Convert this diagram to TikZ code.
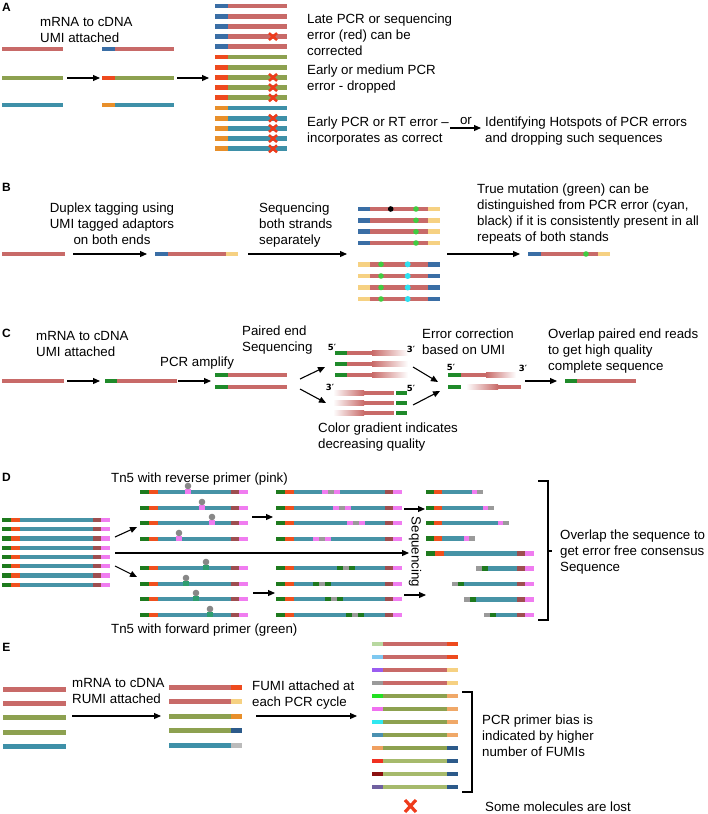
\documentclass[tikz,border=0pt]{standalone}
\usepackage{fontspec}
\setmainfont{Liberation Sans}
\newfontfamily\dvs{DejaVu Sans}
\usetikzlibrary{arrows.meta}
\definecolor{sred}{HTML}{C86A68}
\definecolor{sgreen}{HTML}{8DA150}
\definecolor{slgreen}{HTML}{A6BA6C}
\definecolor{steal}{HTML}{3E90A8}
\definecolor{ublue}{HTML}{3A6EA5}
\definecolor{ured}{HTML}{EE4A1E}
\definecolor{uorange}{HTML}{E88F2A}
\definecolor{uyellow}{HTML}{F6D182}
\definecolor{upeach}{HTML}{F0A868}
\definecolor{udblue}{HTML}{2C5A8A}
\definecolor{ulgrey}{HTML}{BBBBBB}
\definecolor{cgreen}{HTML}{1F8A2A}
\definecolor{dgreen}{HTML}{1E7A1E}
\definecolor{dorange}{HTML}{F0501E}
\definecolor{dteal}{HTML}{4793A6}
\definecolor{dbrown}{HTML}{9E4E50}
\definecolor{dpink}{HTML}{F07CF0}
\definecolor{dgrey}{HTML}{9A9A9A}
\definecolor{tngrey}{HTML}{888888}
\definecolor{tngreen}{HTML}{2E9E70}
\definecolor{xred}{HTML}{EE3B1B}
\definecolor{mgreen}{HTML}{40CC40}
\definecolor{mcyan}{HTML}{30E0F0}
\definecolor{fa}{HTML}{B8D8A0}
\definecolor{fb}{HTML}{7EC8F0}
\definecolor{fc}{HTML}{9A5CF0}
\definecolor{fd}{HTML}{9A9A9A}
\definecolor{fe}{HTML}{22E022}
\definecolor{ff}{HTML}{F070F0}
\definecolor{fg}{HTML}{30E8F0}
\definecolor{fh}{HTML}{4A90B0}
\definecolor{fi}{HTML}{F0A060}
\definecolor{fj}{HTML}{F03020}
\definecolor{fk}{HTML}{8B1010}
\definecolor{fl}{HTML}{7060A0}
\def\hw{2.4}
\newcommand{\sg}[4]{\fill[#1] (#2,#4-\hw) rectangle (#3,#4+\hw);}
\newcommand{\xcross}[2]{\draw[xm] (#1-4,#2-3.5)--(#1+4,#2+3.5) (#1-4,#2+3.5)--(#1+4,#2-3.5);}
\newcommand{\dstrand}[3]{\sg{dgreen}{#1}{#1+9}{#3}\sg{dorange}{#1+9}{#1+18}{#3}\sg{dteal}{#1+18}{#2-17}{#3}\sg{dbrown}{#2-17}{#2-9}{#3}\sg{dpink}{#2-9}{#2}{#3}}
\newcommand{\insr}[3]{\sg{#1}{#2}{#2+6}{#3}\sg{dgrey}{#2+6}{#2+12}{#3}\sg{#1}{#2+12}{#2+18}{#3}}
\newcommand{\tnfive}[3]{\fill[#1] (#2-3,#3-3) rectangle (#2+3,#3+1.5);\fill[tngrey] (#2,#3-6) circle (3.3);}
\newcommand{\rread}[2]{\sg{dgreen}{426}{434}{#2}\sg{dorange}{434}{442}{#2}\sg{dteal}{442}{#1}{#2}\sg{dpink}{#1}{#1+5}{#2}\sg{dgrey}{#1+5}{#1+11}{#2}}
\newcommand{\lread}[2]{\sg{dgrey}{#1}{#1+6}{#2}\sg{dgreen}{#1+6}{#1+12}{#2}\sg{dteal}{#1+12}{517}{#2}\sg{dbrown}{517}{525}{#2}\sg{dpink}{525}{534}{#2}}
\begin{document}
\begin{tikzpicture}[x=1pt,y=-1pt,
  txt/.style={font=\fontsize{13.3}{16}\selectfont, inner sep=0pt, anchor=north west, align=left},
  ctxt/.style={txt, anchor=north, align=center},
  lab/.style={font=\fontsize{12}{13}\selectfont\bfseries, inner sep=0pt},
  pl/.style={font=\dvs\bfseries\fontsize{8.5}{9}\selectfont, inner sep=0pt},
  arr/.style={-{Triangle[length=7pt,width=6pt]}, line width=1.1pt},
  xm/.style={draw=xred, line width=2.5pt},
  br/.style={line width=1.2pt}]
\useasboundingbox (0,0) rectangle (708,814);
% ---------------- A
\node[lab] (LA) at (6.5,7) {A};
\sg{sred}{2}{63}{49}
\sg{sgreen}{2}{63}{78}
\sg{steal}{2}{63}{105}
\draw[arr] (67,78)--(100,78);
\sg{ublue}{102}{115}{49}\sg{sred}{115}{174}{49}
\sg{ured}{102}{115}{78}\sg{sgreen}{115}{174}{78}
\sg{uorange}{102}{115}{105}\sg{steal}{115}{174}{105}
\draw[arr] (177,78)--(209,78);
\foreach \i in {0,...,4}{\sg{ublue}{215}{228}{6+10.2*\i}\sg{sred}{228}{287}{6+10.2*\i}}
\foreach \i in {5,...,9}{\sg{ured}{215}{228}{6+10.2*\i}\sg{sgreen}{228}{287}{6+10.2*\i}}
\foreach \i in {10,...,14}{\sg{uorange}{215}{228}{6+10.2*\i}\sg{steal}{228}{287}{6+10.2*\i}}
\foreach \i in {3,7,8,9,11,12,13,14}{\xcross{273}{6+10.2*\i}}
\node[txt] (a1) at (40,14.6) {\strut mRNA to cDNA\\UMI attached};
\node[txt] (a2) at (307,11.6) {\strut Late PCR or sequencing\\error (red) can be\\corrected};
\node[txt] (a3) at (307,62.6) {\strut Early or medium PCR\\error - dropped};
\node[txt] (a4) at (307,114.6) {\strut Early PCR or RT error --\\incorporates as correct};
\node[txt] (a5) at (485,114.6) {\strut Identifying Hotspots of PCR errors\\and dropping such sequences};
\coordinate (orS) at (450,128);
\coordinate (orE) at (481,128);
\draw[arr] (orS)--(orE);
\node[font=\fontsize{13.3}{16}\selectfont, inner sep=0pt, anchor=base] (or) at (466,124.5) {or};
% ---------------- B
\node[lab] (LB) at (6.5,187) {B};
\sg{sred}{2}{65}{254}
\draw[arr] (73,254)--(147,254);
\sg{ublue}{155}{168}{254}\sg{sred}{168}{226}{254}\sg{uyellow}{226}{238}{254}
\draw[arr] (248,254)--(347,254);
\foreach \y in {209,220.3,231.7,243}{\sg{ublue}{358}{370}{\y}\sg{sred}{370}{428}{\y}\sg{uyellow}{428}{440}{\y}\fill[mgreen] (416,\y) circle (2.8);}
\fill[black] (390.7,209) circle (2.8);
\foreach \y in {264.3,276,287.5,299}{\sg{uyellow}{358}{370}{\y}\sg{sred}{370}{428}{\y}\sg{ublue}{428}{440}{\y}\fill[mgreen] (381,\y) circle (2.8);\fill[mcyan] (407.7,\y) circle (3);}
\draw[arr] (447,254)--(520,254);
\sg{ublue}{528}{541}{254}\sg{sred}{541}{598}{254}\sg{uyellow}{598}{610}{254}
\fill[mgreen] (586,254) circle (2.8);
\node[ctxt] (b1) at (112,200.6) {\strut Duplex tagging using\\UMI tagged adaptors\\on both ends};
\node[txt] (b2) at (259,200.6) {\strut Sequencing\\both strands\\separately};
\node[txt] (b3) at (477,181.6) {\strut True mutation (green) can be\\distinguished from PCR error (cyan,\\black) if it is consistently present in all\\repeats of both stands};
% ---------------- C
\node[lab] (LC) at (6.5,333.5) {C};
\sg{sred}{2}{64}{381}
\draw[arr] (67,381)--(100,381);
\sg{cgreen}{105}{117}{381}\sg{sred}{117}{177}{381}
\draw[arr] (178,381)--(211,381);
\foreach \y in {375,387}{\sg{cgreen}{215}{228}{\y}\sg{sred}{228}{287}{\y}}
\draw[arr] (300,379)--(325,367);
\draw[arr] (300,389)--(326,403);
\foreach \y in {353,364,375}{\sg{cgreen}{335}{347}{\y}\sg{sred}{347}{372}{\y}\shade[left color=sred,right color=white] (372,\y-\hw) rectangle (408,\y+\hw);}
\foreach \y in {393,403,413}{\shade[left color=white,right color=sred] (333,\y-\hw) rectangle (364,\y+\hw);\sg{sred}{364}{394}{\y}\sg{cgreen}{396}{407}{\y}}
\node[pl] (p1) at (332,347) {5′};
\node[pl] (p2) at (411,349) {3′};
\node[pl] (p3) at (330,387) {3′};
\node[pl] (p4) at (411,388) {5′};
\draw[arr] (413,367)--(438,382);
\draw[arr] (413,405)--(440,391);
\sg{cgreen}{448}{461}{375}\sg{sred}{461}{486}{375}\shade[left color=sred,right color=white] (486,375-\hw) rectangle (516,375+\hw);
\sg{cgreen}{448}{461}{387}\shade[left color=white,right color=sred] (466,387-\hw) rectangle (498,387+\hw);\sg{sred}{498}{521}{387}
\node[pl] (p5) at (451,367) {5′};
\node[pl] (p6) at (523,368) {3′};
\draw[arr] (525,381)--(557,381);
\sg{cgreen}{565}{577}{381}\sg{sred}{577}{636}{381}
\node[txt] (c1) at (36,328.6) {\strut mRNA to cDNA\\UMI attached};
\node[txt] (c2) at (160,354.6) {\strut PCR amplify};
\node[txt] (c3) at (242,323.6) {\strut Paired end\\Sequencing};
\node[txt] (c4) at (422,326.6) {\strut Error correction\\based on UMI};
\node[txt] (c5) at (548,326.6) {\strut Overlap paired end reads\\to get high quality\\complete sequence};
\node[txt] (c6) at (318,420.6) {\strut Color gradient indicates\\decreasing quality};
% ---------------- D
\def\hw{2.2}
\node[lab] (LD) at (6.5,477.5) {D};
\foreach \i in {0,...,7}{\dstrand{2}{110}{520+9.25*\i}}
\foreach \y in {492,508,523,539}{\dstrand{140}{248}{\y}}
\foreach \y in {568,584,599,615}{\dstrand{140}{248}{\y}}
\tnfive{dpink}{188}{492}\tnfive{dpink}{202}{508}\tnfive{dpink}{212}{523}\tnfive{dpink}{179}{539}
\tnfive{tngreen}{206}{568}\tnfive{tngreen}{186}{584}\tnfive{tngreen}{196}{599}\tnfive{tngreen}{210}{615}
\foreach \y in {492,508,523,539,568,584,599,615}{\dstrand{276}{402}{\y}}
\insr{dpink}{322}{492}\insr{dpink}{333}{508}\insr{dpink}{347}{523}\insr{dpink}{313}{539}
\insr{dgreen}{337}{568}\insr{dgreen}{313}{584}\insr{dgreen}{325}{599}\insr{dgreen}{346}{615}
\rread{472}{492}\rread{483}{508}\rread{498}{523}\rread{464}{538.5}
\dstrand{426}{534}{553.5}
\lread{476}{568.3}\lread{452}{584}\lread{464}{599.3}\lread{484}{615}
\draw[arr] (115,537)--(137,527);
\draw[arr] (115,566)--(137,577);
\draw[arr] (115,553)--(409,553);
\draw[arr] (252,517)--(273,517);
\draw[arr] (253,593)--(275,593);
\draw[arr] (404,509)--(425,509);
\draw[arr] (404,595)--(426,595);
\draw[br] (538,481)--(548,481)--(548,620)--(538,620);
\draw[br] (548,551)--(552,551);
\node[font=\fontsize{13.3}{16}\selectfont, inner sep=0pt, rotate=-90] (d4) at (415,552) {Sequencing};
\node[txt] (d1) at (111,470.6) {\strut Tn5 with reverse primer (pink)};
\node[txt] (d2) at (111,621.6) {\strut Tn5 with forward primer (green)};
\node[txt] (d3) at (560,527.6) {\strut Overlap the sequence to\\get error free consensus\\Sequence};
% ---------------- E
\def\hw{2.4}
\node[lab] (LE) at (6.5,647) {E};
\sg{sred}{3}{66}{689.3}\sg{sred}{3}{66}{703.3}\sg{sgreen}{3}{66}{717.7}\sg{sgreen}{3}{66}{732.3}\sg{steal}{3}{66}{746.7}
\draw[arr] (72,716)--(161,716);
\sg{sred}{169}{231}{687.7}\sg{ured}{231}{242}{687.7}
\sg{sred}{169}{231}{701.7}\sg{uyellow}{231}{242}{701.7}
\sg{sgreen}{169}{231}{716.3}\sg{uorange}{231}{242}{716.3}
\sg{sgreen}{169}{231}{730.7}\sg{udblue}{231}{242}{730.7}
\sg{steal}{169}{231}{745.3}\sg{ulgrey}{231}{242}{745.3}
\draw[arr] (256,716)--(357,716);
\foreach \i/\f/\b/\r in {0/fa/sred/ured,1/fb/sred/ured,2/fc/sred/uyellow,3/fd/sred/uyellow,4/fe/sgreen/upeach,5/ff/sgreen/upeach,6/fg/sgreen/upeach,7/fh/sgreen/upeach,8/fi/sgreen/udblue,9/fj/slgreen/udblue,10/fk/slgreen/udblue,11/fl/slgreen/udblue}{\sg{\f}{372}{383}{644+13*\i}\sg{\b}{383}{447}{644+13*\i}\sg{\r}{447}{458}{644+13*\i}}
\draw[br] (462,692)--(472,692)--(472,792)--(462,792);
\draw[xm, line width=3.2pt] (405,800)--(416,812) (405,812)--(416,800);
\node[txt] (e1) at (72,675.9) {\strut mRNA to cDNA\\RUMI attached};
\node[txt] (e2) at (252,678.6) {\strut FUMI attached at\\each PCR cycle};
\node[txt] (e3) at (482,712.6) {\strut PCR primer bias is\\indicated by higher\\number of FUMIs};
\node[txt] (e4) at (485,799.6) {\strut Some molecules are lost};
\end{tikzpicture}
\end{document}
